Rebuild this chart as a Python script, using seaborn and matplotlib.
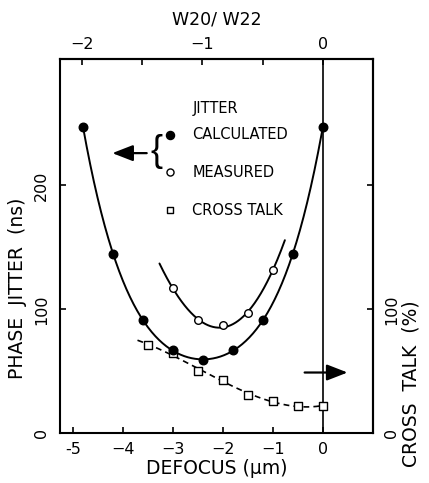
import numpy as np
import pandas as pd
import seaborn as sns
import matplotlib.pyplot as plt

# values
calc_x = [-4.8, -4.2, -3.6, -3.0, -2.4, -1.8, -1.2, -0.6, 0.0]
calc_y = [247, 145, 91, 67, 59, 67, 91, 145, 247]
meas_x = [-3.0, -2.5, -2.0, -1.5, -1.0]
meas_y = [117, 91, 87, 97, 132]
ct_x = [-3.5, -3.0, -2.5, -2.0, -1.5, -1.0, -0.5, 0.0]
ct_y = [71, 65, 50, 43, 31, 26, 22, 22]

# extent of the drawn fit curves
calc_range = (-4.8, 0.0)
meas_range = (-3.27, -0.76)
ct_range = (-3.71, 0.0)

w_ratio = 2.41  # defocus (um) per unit W20/W22

sns.set_style('ticks')
plt.rcParams['font.family'] = ['DejaVu Sans']
for key in ['text.color', 'axes.labelcolor', 'xtick.color', 'ytick.color', 'axes.edgecolor']:
    plt.rcParams[key] = 'black'

fig = plt.figure(figsize=(4.29, 4.83), dpi=100)
ax = fig.add_axes([0.14, 0.103, 0.729, 0.775])


def fit_curve(xs, ys, deg, rng):
    c = np.polyfit(xs, ys, deg)
    xx = np.linspace(rng[0], rng[1], 200)
    return pd.DataFrame({'x': xx, 'y': np.polyval(c, xx)})


calc_fit = fit_curve(calc_x, calc_y, 4, calc_range)
meas_fit = fit_curve(meas_x, meas_y, 3, meas_range)
ct_fit = fit_curve(ct_x, ct_y, 3, ct_range)

sns.lineplot(data=calc_fit, x='x', y='y', ax=ax, color='black', lw=1.4, sort=False)
sns.lineplot(data=meas_fit, x='x', y='y', ax=ax, color='black', lw=1.4, sort=False)
ax.plot(ct_fit['x'], ct_fit['y'], color='black', lw=1.2, ls=(0, (3.5, 2.5)))

# markers
ax.scatter(ct_x, ct_y, marker='s', s=28, facecolor='white', edgecolor='black', lw=1.0, zorder=3)
ax.scatter(meas_x, meas_y, marker='o', s=30, facecolor='white', edgecolor='black', lw=1.0, zorder=4)
ax.scatter(calc_x, calc_y, marker='o', s=38, facecolor='black', edgecolor='black', zorder=5)

ax.axvline(0, color='black', lw=1.2)

ax.set_xlim(-5.26, 1.0)
ax.set_ylim(0, 302)

ax.set_xticks([-5, -4, -3, -2, -1, 0])
ax.set_xticklabels(['-5', '\u22124', '\u22123', '\u22122', '\u22121', '0'])
ax.set_yticks([0, 100, 200])
ax.set_yticklabels(['0', '100', '200'], rotation=90, va='center')
ax.tick_params(direction='in', length=4, width=1.2, labelsize=11.5, pad=6)
ax.tick_params(axis='y', pad=8)
for s in ax.spines.values():
    s.set_linewidth(1.5)

ax.set_xlabel('DEFOCUS (\u03bcm)', fontsize=13.5, labelpad=2)
ax.set_ylabel('')
fig.text(18 / 429, 1 - 288 / 483, 'PHASE  JITTER  (ns)', fontsize=13.5,
         rotation=90, ha='center', va='center')

# top axis W20/W22
top = ax.secondary_xaxis('top', functions=(lambda d: d / w_ratio, lambda w: w * w_ratio))
top.set_xticks([-2, -1, 0])
top.set_xticklabels(['\u22122', '\u22121', '0'])
top.set_xticks([-1.5, -0.5], minor=True)
top.tick_params(which='both', direction='in', length=4, width=1.2, labelsize=11.5, pad=5)
top.set_xlabel('W20/ W22', fontsize=12.5, labelpad=9)
top.spines['top'].set_linewidth(1.5)

# right axis cross talk
right = ax.secondary_yaxis('right')
right.set_yticks([0, 100, 200])
right.set_yticklabels(['0', '100', ''], rotation=90, va='center')
right.tick_params(direction='in', length=4, width=1.2, labelsize=11.5, pad=8)
right.spines['right'].set_linewidth(1.5)
fig.text(411 / 429, 1 - 384 / 483, 'CROSS  TALK  (%)', fontsize=13.5,
         rotation=90, ha='center', va='center')

# legend drawn inside the axes
ax.text(-2.61, 262, 'JITTER', fontsize=10.5, va='center')
ax.scatter([-3.05], [241], marker='o', s=34, color='black', zorder=5)
ax.text(-2.61, 241, 'CALCULATED', fontsize=10.5, va='center')
ax.scatter([-3.05], [210.5], marker='o', s=26, facecolor='white', edgecolor='black', lw=1.0, zorder=5)
ax.text(-2.61, 210.5, 'MEASURED', fontsize=10.5, va='center')
ax.scatter([-3.05], [180], marker='s', s=24, facecolor='white', edgecolor='black', lw=1.0, zorder=5)
ax.text(-2.61, 180, 'CROSS TALK', fontsize=10.5, va='center')
ax.text(-3.33, 227, '{', fontsize=26, va='center', ha='center', family='Liberation Sans',
        fontweight='light')

arrow = dict(arrowstyle='-|>,head_length=0.9,head_width=0.35', color='black', lw=1.6, mutation_scale=14)
ax.annotate('', xy=(-4.27, 226), xytext=(-3.47, 226), arrowprops=arrow)
ax.annotate('', xy=(0.55, 49), xytext=(-0.42, 49), arrowprops=arrow)

plt.savefig('out.png', dpi=100)
